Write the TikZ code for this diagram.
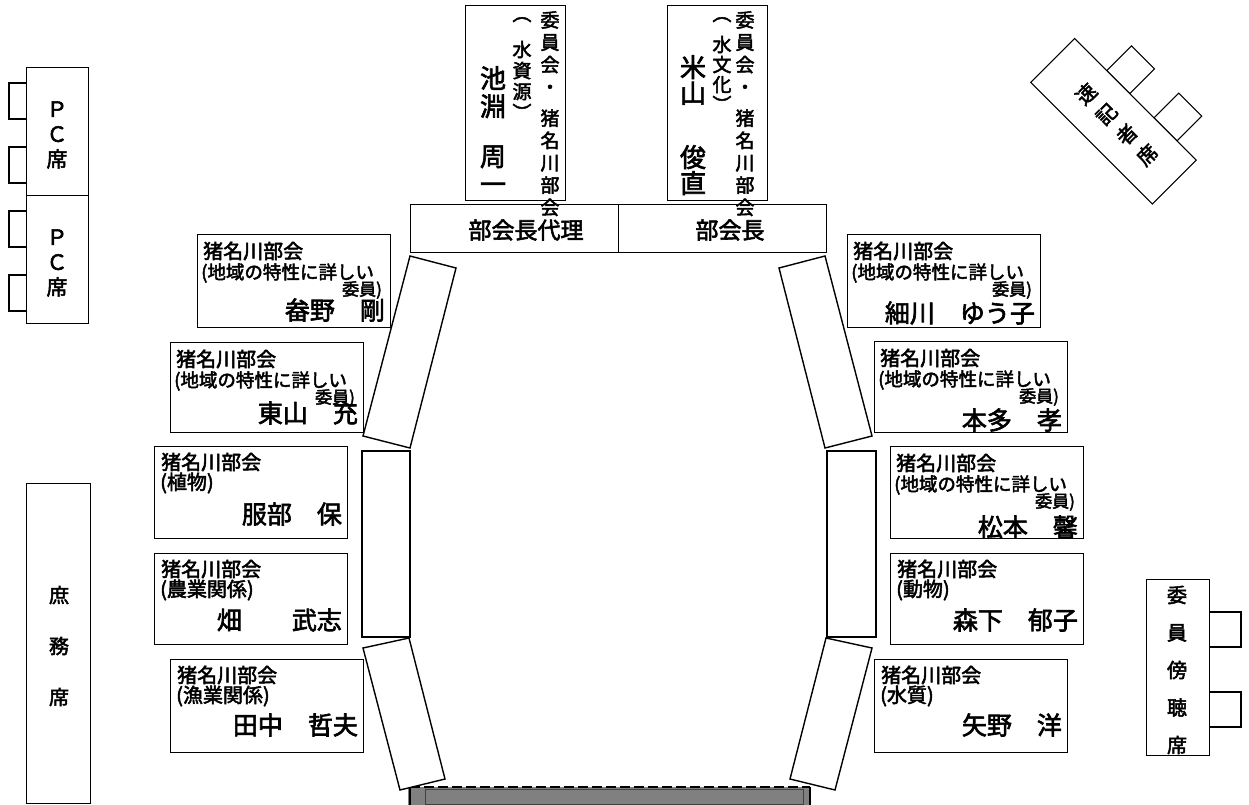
\documentclass[tikz,border=0pt]{standalone}
\usepackage{fontspec}
\setmainfont{Noto Sans CJK JP}[FakeBold=2.5]
\tikzset{
 seatbox/.style={draw, line width=1.1pt, fill=white, inner sep=0, anchor=north west},
 tbl/.style={draw, line width=1.4pt, fill=white},
 lbl/.style={inner sep=0, anchor=west, font=\fontsize{20}{24}\selectfont},
 lblsm/.style={inner sep=0, anchor=west, font=\fontsize{18.5}{22}\selectfont},
 lbliin/.style={inner sep=0, anchor=east, font=\fontsize{17}{18}\selectfont},
 nm/.style={inner sep=0, anchor=east, font=\fontsize{25}{30}\selectfont},
 vcol/.style={inner sep=0, anchor=north, align=center},
 tab/.style={draw, line width=1.1pt},
 head/.style={inner sep=0, font=\fontsize{23}{26}\selectfont},
}
\newcommand\seatA[6]{%
 \node[seatbox, minimum width=193, minimum height=#4] (#1) at (#2,#3) {};
 \node[lbl] (#1l1) at ([xshift=6,yshift=-17]#1.north west) {猪名川部会};
 \node[lblsm] (#1l2) at ([xshift=4,yshift=-39]#1.north west) {(地域の特性に詳しい};
 \node[lbliin] (#1l3) at ([xshift=-9,yshift=-56]#1.north east) {委員)};
 \node[nm] (#1n) at ([xshift=-6,yshift=-#6]#1.north east) {#5};
}
\newcommand\seatB[7]{%
 \node[seatbox, minimum width=193, minimum height=#4] (#1) at (#2,#3) {};
 \node[lbl] (#1l1) at ([xshift=7,yshift=-16]#1.north west) {猪名川部会};
 \node[lbl] (#1l2) at ([xshift=6,yshift=-37]#1.north west) {#5};
 \node[nm] (#1n) at ([xshift=-6,yshift=-#7]#1.north east) {#6};
}
\begin{document}
\begin{tikzpicture}[x=1pt,y=-1pt]
\useasboundingbox (0,0) rectangle (1249,805);
\fill[white] (0,0) rectangle (1249,805);

% PC seats
\draw[tab] (26,83) -- (9,83) -- (9,119) -- (26,119);
\draw[tab] (26,147) -- (9,147) -- (9,183) -- (26,183);
\draw[tab] (26,211) -- (9,211) -- (9,247) -- (26,247);
\draw[tab] (26,275) -- (9,275) -- (9,311) -- (26,311);
\node[seatbox, minimum width=62, minimum height=128] (pc1) at (26,67) {};
\node[seatbox, minimum width=62, minimum height=128] (pc2) at (26,195) {};
\node[inner sep=0, align=center, font=\fontsize{21}{25}\selectfont] (pc1t) at (57,135) {Ｐ\\Ｃ\\席};
\node[inner sep=0, align=center, font=\fontsize{21}{25}\selectfont] (pc2t) at (57,263) {Ｐ\\Ｃ\\席};

% general affairs seat
\node[seatbox, minimum width=64, minimum height=320] (shomu) at (26,483) {};
\node[inner sep=0, align=center, font=\fontsize{20}{51}\selectfont] (shomut) at (59,646) {庶\\務\\席};

% observer seat
\draw[tab] (1209,612) -- (1241,612) -- (1241,647) -- (1209,647);
\draw[tab] (1209,692) -- (1241,692) -- (1241,727) -- (1209,727);
\node[seatbox, minimum width=63, minimum height=176] (bocho) at (1146,579) {};
\node[inner sep=0, align=center, font=\fontsize{20}{37.5}\selectfont] (bochot) at (1177,670) {委\\員\\傍\\聴\\席};

% stenographer seat
\begin{scope}[shift={(1113.5,121.25)}, rotate=45]
 \draw[tab] (31,-40.6) rectangle (66,-8.1);
 \draw[tab] (31,26.2) rectangle (66,58.7);
 \draw[line width=1.1pt, fill=white] (-31,-86) rectangle (31,86);
 \coordinate (sokki) at (0,0);
 \node[inner sep=0, align=center, rotate=45, font=\fontsize{20}{28.7}\selectfont] (sokkit) at (0,4.4) {速\\記\\者\\席};
\end{scope}

% top name boxes and head table
\node[seatbox, minimum width=100, minimum height=195] (ikebuchi) at (465,5) {};
\node[seatbox, minimum width=100, minimum height=195] (yoneyama) at (667,5) {};
\node[seatbox, minimum width=208, minimum height=48] (vice) at (410,204) {};
\node[seatbox, minimum width=208, minimum height=48] (chair) at (618,204) {};
\node[head] (vicet) at (526,230) {部会長代理};
\node[head] (chairt) at (730,230) {部会長};

\node[vcol, font=\fontsize{19}{22.3}\selectfont] (ika) at (550,11) {委\\員\\会\\・\\[9pt]猪\\名\\川\\部\\会};
\node[vcol, font=\fontsize{19}{21}\selectfont] (ikb) at (522,17) {︵\\[15pt]水\\資\\源\\︶};
\node[vcol, font=\fontsize{26}{28}\selectfont] (ikc) at (493,66) {池\\淵\\[22pt]周\\一};

\node[vcol, font=\fontsize{19}{22.3}\selectfont] (yna) at (745,11) {委\\員\\会\\・\\[9pt]猪\\名\\川\\部\\会};
\node[vcol, font=\fontsize{19}{20}\selectfont] (ynb) at (722,17) {︵\\[11pt]水\\文\\化\\︶};
\node[vcol, font=\fontsize{26}{26}\selectfont] (ync) at (693,55) {米\\山\\[38pt]俊\\直};

% member seats
\seatA{hino}{197}{234}{93}{畚野　剛}{76}
\seatA{higashi}{170}{342}{90}{東山　充}{71}
\seatB{hattori}{154}{446}{92}{(植物)}{服部　保}{68}
\seatB{hata}{154}{553}{91}{(農業関係)}{畑　　武志}{67}
\seatB{tanaka}{170}{659}{93}{(漁業関係)}{田中　哲夫}{66}
\seatA{hosokawa}{847}{234}{93}{細川　ゆう子}{79}
\seatA{honda}{874}{341}{91}{本多　孝}{79}
\seatA{matsumoto}{890}{446}{92}{松本　馨}{81}
\seatB{morishita}{890}{553}{91}{(動物)}{森下　郁子}{67}
\seatB{yano}{874}{659}{93}{(水質)}{矢野　洋}{66}

% bottom bar
\fill[gray] (408,787) rectangle (811,805);
\draw[line width=1pt, black!75] (425,789) rectangle (803,804);
\draw[line width=1.6pt] (410,787) -- (410,805);
\draw[line width=1.6pt] (810,787) -- (810,805);
\draw[line width=1.5pt, dash pattern=on 10pt off 4pt] (410,787) -- (810,787);

% tables
\draw[tbl] (410,256) -- (456,268) -- (410,448) -- (363,436) -- cycle;
\draw[tbl] (825,256) -- (779,268) -- (825,448) -- (872,436) -- cycle;
\draw[tbl] (362,451) rectangle (410,637);
\draw[tbl] (827,451) rectangle (876,637);
\draw[tbl] (363,648) -- (409,638) -- (445,779) -- (400,790) -- cycle;
\draw[tbl] (872,648) -- (826,638) -- (790,779) -- (835,790) -- cycle;
\end{tikzpicture}
\end{document}
